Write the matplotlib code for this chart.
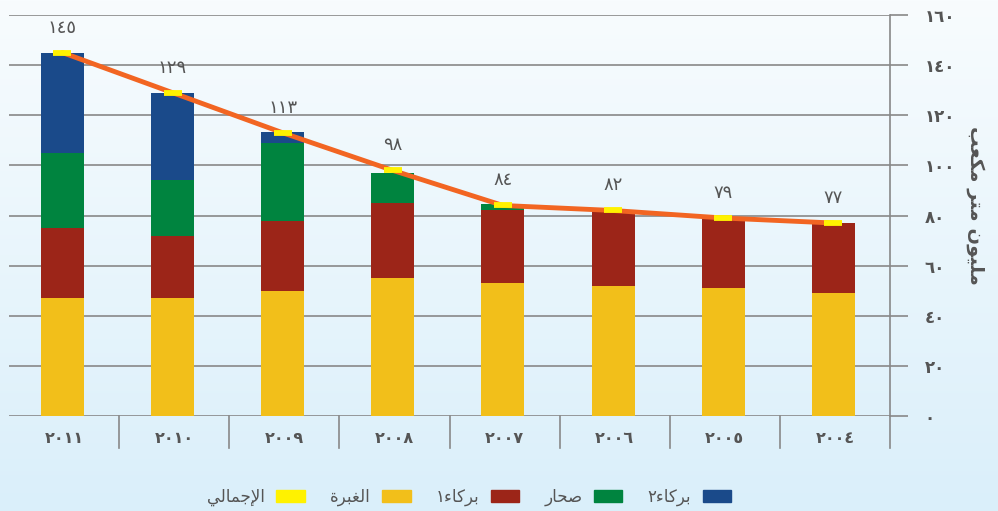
import numpy as np
import matplotlib
matplotlib.use("Agg")
import matplotlib.pyplot as plt
from matplotlib.patches import Patch
import matplotlib.transforms as mtransforms

plt.rcParams['font.family'] = ['DejaVu Sans']

# ---------------- data ----------------
years = [2011, 2010, 2009, 2008, 2007, 2006, 2005, 2004]
ghubrah = [47, 47, 50, 55, 53, 52, 51, 49]
barka1 = [28, 25, 28, 30, 29, 30, 28, 28]
sohar = [30, 22, 31, 12, 2.5, 0, 0, 0]
barka2 = [40, 35, 4.5, 0, 0, 0, 0, 0]
totals = [145, 129, 113, 98, 84, 82, 79, 77]
yticks = [0, 20, 40, 60, 80, 100, 120, 140, 160]

series_names = ['الغبرة', 'بركاء١', 'صحار', 'بركاء٢']
total_name = 'الإجمالي'
ylabel = 'مليون متر مكعب'

# ---------------- arabic helpers ----------------
AR_DIGITS = '٠١٢٣٤٥٦٧٨٩'


def ar_num(n):
    return ''.join(AR_DIGITS[int(c)] for c in str(n))


FORMS = {  # iso, fin, ini, med
    'ا': (0xFE8D, 0xFE8E, None, None),
    'إ': (0xFE87, 0xFE88, None, None),
    'ب': (0xFE8F, 0xFE90, 0xFE91, 0xFE92),
    'ة': (0xFE93, 0xFE94, None, None),
    'ت': (0xFE95, 0xFE96, 0xFE97, 0xFE98),
    'ج': (0xFE9D, 0xFE9E, 0xFE9F, 0xFEA0),
    'ح': (0xFEA1, 0xFEA2, 0xFEA3, 0xFEA4),
    'ر': (0xFEAD, 0xFEAE, None, None),
    'ص': (0xFEB9, 0xFEBA, 0xFEBB, 0xFEBC),
    'ع': (0xFEC9, 0xFECA, 0xFECB, 0xFECC),
    'غ': (0xFECD, 0xFECE, 0xFECF, 0xFED0),
    'ك': (0xFED9, 0xFEDA, 0xFEDB, 0xFEDC),
    'ل': (0xFEDD, 0xFEDE, 0xFEDF, 0xFEE0),
    'م': (0xFEE1, 0xFEE2, 0xFEE3, 0xFEE4),
    'ن': (0xFEE5, 0xFEE6, 0xFEE7, 0xFEE8),
    'و': (0xFEED, 0xFEEE, None, None),
    'ي': (0xFEF1, 0xFEF2, 0xFEF3, 0xFEF4),
    'ء': (0xFE80, None, None, None),
    'LA': (0xFEFB, 0xFEFC, None, None),
    'LI': (0xFEF9, 0xFEFA, None, None),
}


def dual(c):
    return c in FORMS and FORMS[c][2] is not None


def joins_prev(c):
    return c in FORMS and FORMS[c][1] is not None


def shape(s):
    toks = []
    i = 0
    while i < len(s):
        if s[i] == 'ل' and i + 1 < len(s) and s[i + 1] in 'اإ':
            toks.append('LA' if s[i + 1] == 'ا' else 'LI')
            i += 2
        else:
            toks.append(s[i])
            i += 1
    out = []
    for k, t in enumerate(toks):
        if t not in FORMS:
            out.append(t)
            continue
        prev = toks[k - 1] if k > 0 else None
        nxt = toks[k + 1] if k + 1 < len(toks) else None
        cp = prev is not None and dual(prev) and joins_prev(t)
        cn = dual(t) and nxt is not None and joins_prev(nxt)
        iso, fin, ini, med = FORMS[t]
        if cp and cn:
            code = med
        elif cp:
            code = fin
        elif cn:
            code = ini
        else:
            code = iso
        out.append(chr(code))
    return ''.join(reversed(out))


# ---------------- figure ----------------
W, H = 998, 511
fig = plt.figure(figsize=(W / 100, H / 100), dpi=100)

bg = fig.add_axes([0, 0, 1, 1], zorder=-10)
top_c = np.array([0xF8, 0xFC, 0xFE]) / 255
bot_c = np.array([0xDA, 0xEF, 0xFA]) / 255
t = np.linspace(0, 1, 256)[:, None]
grad = (top_c[None, :] * (1 - t) + bot_c[None, :] * t)[:, None, :]
bg.imshow(grad, aspect='auto', extent=[0, 1, 0, 1])
bg.set_axis_off()

ax = fig.add_axes([9 / W, 95 / H, (890 - 9) / W, (416 - 15) / H])
ax.set_facecolor('none')

x = np.arange(len(years))
colors = ['#F2BF1A', '#9C2518', '#00843F', '#1A4A8A']
bw = 0.39
xb = x - 0.015
bottom = np.zeros(len(years))
for vals, c in zip([ghubrah, barka1, sohar, barka2], colors):
    v = np.array(vals, dtype=float)
    ax.bar(xb, v, bw, bottom=bottom, color=c, zorder=3, linewidth=0)
    bottom += v

ax.plot(xb, totals, color='#F26522', lw=3.5, zorder=4, solid_capstyle='round')
ax.plot(xb, totals, linestyle='none', marker='_', ms=13, mew=4.2,
        color='#FFF200', zorder=5)

for xi, tv in zip(xb, totals):
    ax.text(xi, tv + 10, ar_num(tv), ha='center', va='center',
            fontsize=13, color='#555555', zorder=6)

ax.set_xlim(-0.5, len(years) - 0.5)
ax.set_ylim(0, 160)
ax.set_yticks(yticks)
ax.set_yticklabels([ar_num(v) for v in yticks], fontweight='bold')
ax.yaxis.tick_right()
ax.tick_params(axis='y', length=13, width=1.2, color='#888888', pad=12,
               labelsize=12, labelcolor='#555555')
ax.set_xticks([])
ax.grid(axis='y', color='#888888', lw=1.2, zorder=1)
for s in ['left', 'top', 'bottom']:
    ax.spines[s].set_visible(False)
ax.spines['right'].set_color('#888888')
ax.spines['right'].set_linewidth(1.2)
ax.spines['right'].set_bounds(0, 160)

# category separators below axis
trans = mtransforms.blended_transform_factory(ax.transData, ax.transAxes)
sep_bottom = -(448 - 416) / (416 - 15)
for b in np.arange(0.5, len(years), 1.0):
    ax.plot([b, b], [0, sep_bottom], transform=trans, color='#888888',
            lw=1.2, clip_on=False, zorder=2)
for xi, yr in zip(x, years):
    ax.text(xi, -(438 - 416) / (416 - 15), ar_num(yr), transform=trans,
            ha='center', va='center', fontsize=11.5, fontweight='bold',
            color='#555555')

fig.text(975 / W, 1 - 205 / H, shape(ylabel), rotation=270, ha='center',
         va='center', fontsize=14, fontweight='bold', color='#555555')

# legend (left-to-right: total, ghubrah, barka1, sohar, barka2)
handles = [Patch(color='#FFF200', label=shape(total_name))]
for name, c in zip(series_names, colors):
    handles.append(Patch(color=c, label=shape(name)))
fig.legend(handles=handles, loc='center', bbox_to_anchor=(469 / W, 14 / H),
           ncol=5, frameon=False, markerfirst=False, fontsize=12,
           handlelength=1.7, handleheight=0.8, handletextpad=0.7,
           columnspacing=1.5, labelcolor='#555555')

fig.savefig('out.png', dpi=100)
